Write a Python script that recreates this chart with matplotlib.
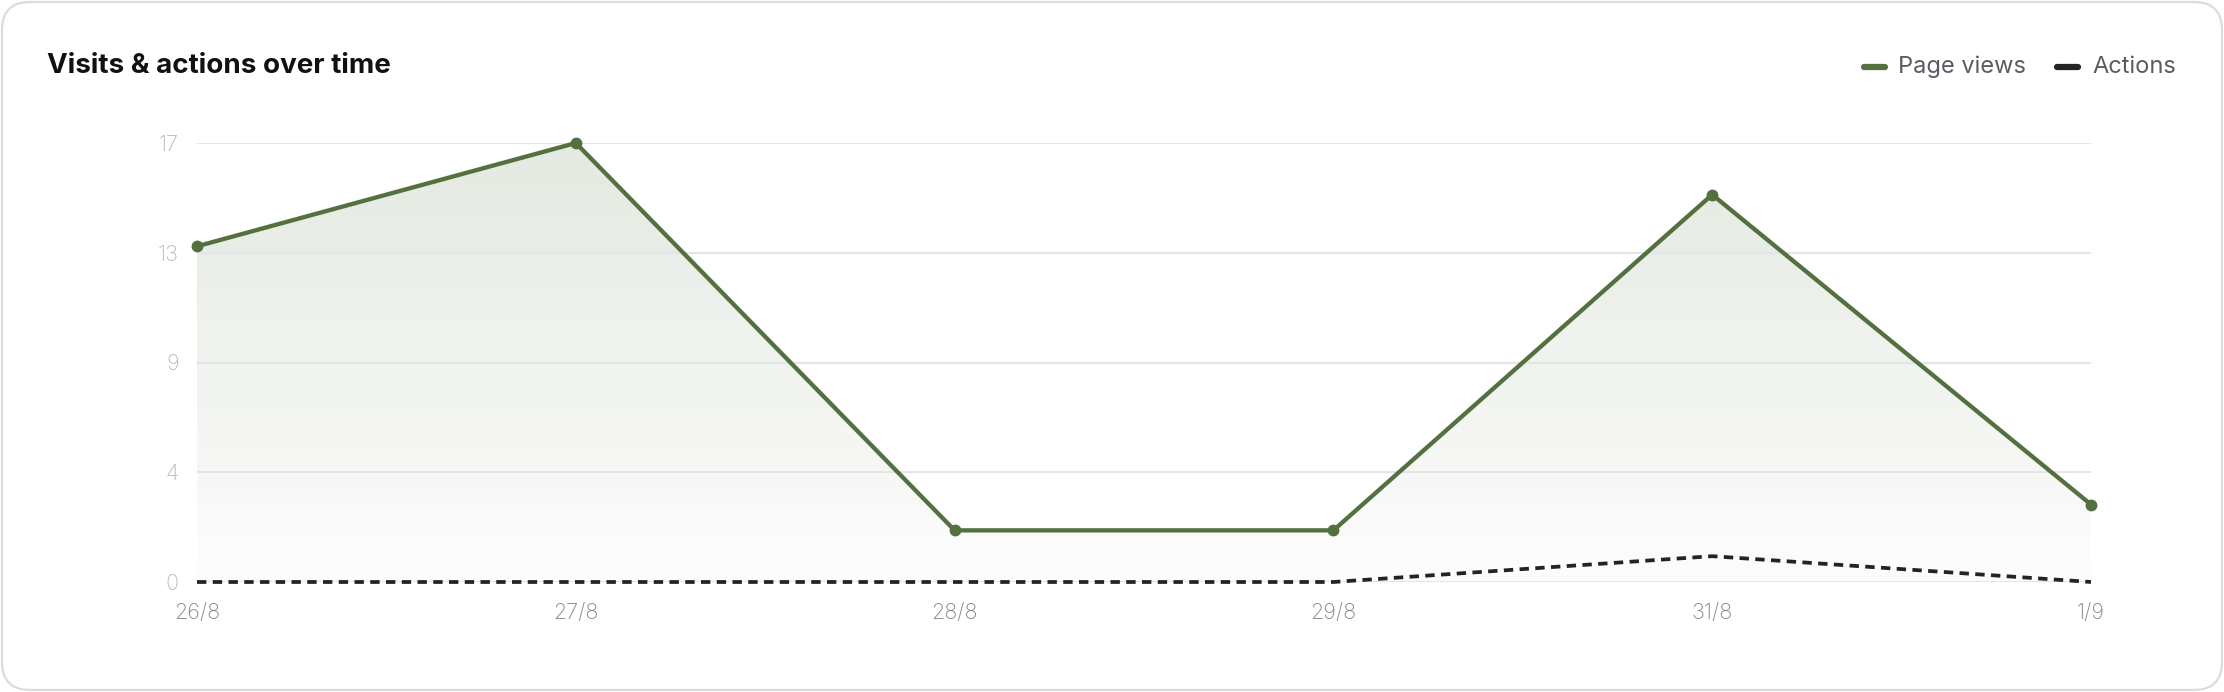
import numpy as np
import matplotlib.pyplot as plt
from matplotlib.patches import FancyBboxPatch, Polygon
from matplotlib.colors import LinearSegmentedColormap

# data
dates = ['26/8', '27/8', '28/8', '29/8', '31/8', '1/9']
page_views = [13, 17, 2, 2, 15, 3]
actions = [0, 0, 0, 0, 1, 0]
y_max = 17

GREEN = '#54703f'
DARK = '#232326'
GRID = '#e3e5e8'

plt.rcParams['font.family'] = ['Inter', 'DejaVu Sans']

W, H = 2224, 692
fig = plt.figure(figsize=(W / 100, H / 100), dpi=100)

# card background with rounded border
bg = fig.add_axes([0, 0, 1, 1])
bg.set_xlim(0, W)
bg.set_ylim(0, H)
bg.axis('off')
card = FancyBboxPatch((2, 2), W - 4, H - 4, boxstyle='round,pad=0,rounding_size=28',
                      facecolor='white', edgecolor='#dcdcdf', linewidth=1.6)
bg.add_patch(card)

fig.text(47 / W, 1 - 66 / H, 'Visits & actions over time', fontsize=20,
         fontweight='bold', color='#111111', va='center', ha='left')

ax = fig.add_axes([197 / W, 110 / H, (2091 - 197) / W, (582 - 143) / H])
ax.set_facecolor('none')
x = np.arange(len(dates))
ax.set_xlim(x[0], x[-1])
ax.set_ylim(0, y_max)

# gradient fill under page views
cmap = LinearSegmentedColormap.from_list('fade', ['#fdfdfd', '#e4e9e1'])
grad = np.linspace(0, 1, 256).reshape(-1, 1)
img = ax.imshow(grad, cmap=cmap, aspect='auto', origin='lower',
                extent=[x[0], x[-1], 0, y_max], zorder=1)
poly = Polygon(np.column_stack([np.r_[x[0], x, x[-1]], np.r_[0, page_views, 0]]),
               closed=True, facecolor='none', edgecolor='none')
ax.add_patch(poly)
img.set_clip_path(poly)

yt = np.linspace(0, y_max, 5)
ax.set_yticks(yt)
ax.set_yticklabels([str(int(np.floor(v + 0.5))) for v in yt])
for v in yt:
    ax.axhline(v, color=GRID, lw=1.5, zorder=2)

ax.plot(x, page_views, color=GREEN, lw=3.1, marker='o', markersize=7.5,
        zorder=4, solid_joinstyle='round', clip_on=False)
ax.plot(x, actions, color=DARK, lw=2.7, linestyle=(0, (2.5, 1.7)), zorder=3,
        clip_on=False)

ax.set_xticks(x)
ax.set_xticklabels(dates)
for s in ax.spines.values():
    s.set_visible(False)
ax.tick_params(axis='y', length=0, pad=13, labelsize=15.5, labelcolor='#b9b9be')
ax.tick_params(axis='x', length=0, pad=15, labelsize=15.5, labelcolor='#85858c')
for lab in ax.get_xticklabels() + ax.get_yticklabels():
    lab.set_fontweight('light')

# legend drawn on the card
ly = H - 67
for x0, x1, tx, col, label in [(1864, 1885, 1898, GREEN, 'Page views'),
                               (2057, 2078, 2092, DARK, 'Actions')]:
    bg.plot([x0, x1], [ly, ly], color=col, lw=4.5, solid_capstyle='round')
    bg.text(tx, ly, label, fontsize=17, color='#5a5a62', va='center', ha='left')

fig.savefig('out.png', dpi=100)
